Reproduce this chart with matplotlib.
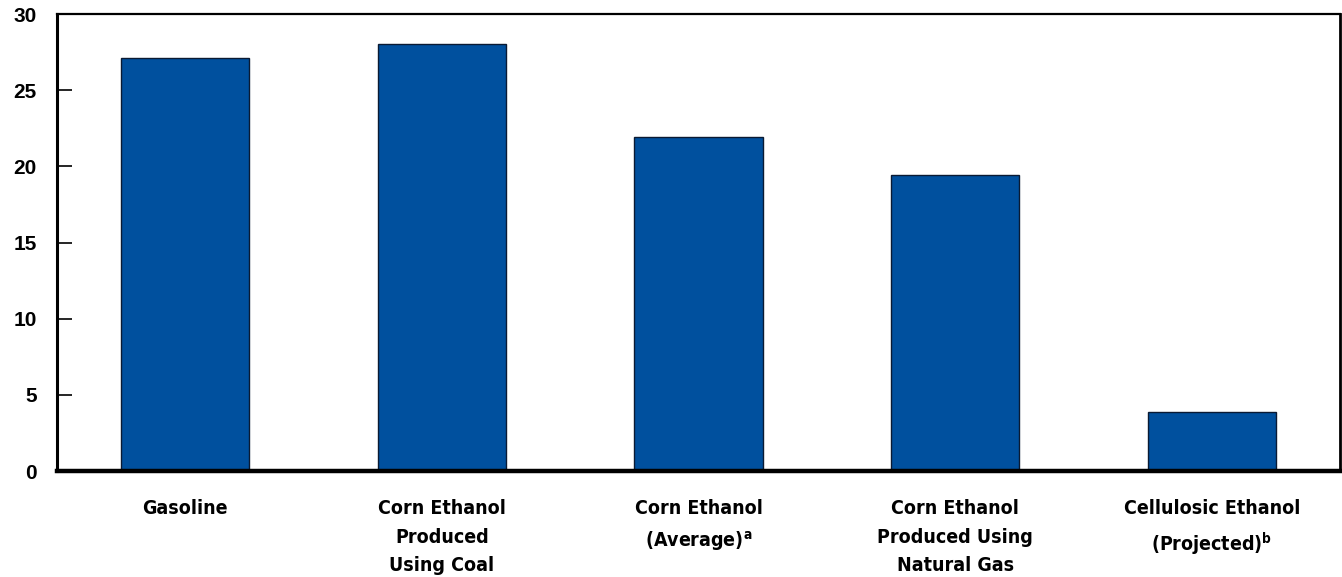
import matplotlib.pyplot as plt
import numpy as np

categories = ['Gasoline',
              'Corn Ethanol\nProduced\nUsing Coal',
              'Corn Ethanol\n(Average)$^\\mathregular{a}$',
              'Corn Ethanol\nProduced Using\nNatural Gas',
              'Cellulosic Ethanol\n(Projected)$^\\mathregular{b}$']
values = [27.1, 28.0, 21.9, 19.4, 3.9]
yticks = [0, 5, 10, 15, 20, 25, 30]

fig = plt.figure(figsize=(13.42, 5.77), dpi=100)
ax = fig.add_axes([0.0425, 0.1837, 0.956, 0.792])

x = np.arange(len(categories))
ax.bar(x, values, width=0.5, color='#00509e', edgecolor='#0a1a33', linewidth=1.0)

ax.set_xlim(-0.5, 4.5)
ax.set_ylim(0, 30)
ax.set_yticks(yticks)
ax.set_yticklabels([str(v) for v in yticks], fontsize=15, fontweight='bold',
                   family='Liberation Sans')
ax.tick_params(axis='y', direction='in', length=11, width=1.2, pad=14.5)
ax.set_xticks(x)
ax.set_xticklabels(categories, fontsize=14, fontweight='bold',
                   family=['Liberation Sans Narrow', 'DejaVu Sans'],
                   fontstretch='condensed', linespacing=1.65, va='top')
ax.tick_params(axis='x', length=0, pad=20)

ax.spines['bottom'].set_linewidth(3.2)
ax.spines['left'].set_linewidth(2.2)
ax.spines['top'].set_linewidth(1.6)
ax.spines['right'].set_linewidth(2.0)

fig.savefig('out.png', dpi=100)
